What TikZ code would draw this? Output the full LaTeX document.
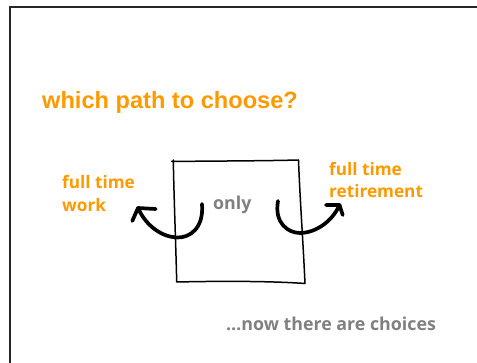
\documentclass[tikz,border=0pt]{standalone}
\usepackage{fontspec}
\setmainfont{Open Sans}
\newfontfamily\headfont{Liberation Sans}
\definecolor{pathorange}{HTML}{FF9900}
\definecolor{notegray}{HTML}{808080}
\begin{document}
\begin{tikzpicture}[x=1pt,y=-1pt,
  frame/.style={line width=2pt, draw=black!85},
  sketch/.style={line width=1.5pt, line cap=round, line join=round},
  swoop/.style={line width=3.7pt, line cap=round, line join=round},
  txt/.style={inner sep=0pt, anchor=base west},
  headline/.style={txt, text=pathorange, font=\headfont\bfseries\fontsize{23.6}{28}\selectfont},
  choice/.style={txt, text=pathorange, font=\bfseries\fontsize{17.2}{20}\selectfont},
  remark/.style={txt, text=notegray, font=\bfseries\fontsize{17.8}{21}\selectfont}
]
\useasboundingbox (0,0) rectangle (477,363);

% page frame, open to the right and bottom
\draw[frame] (10,363) -- (10,7) -- (477,7);

% heading
\node[headline] (head) at (42,109) {which path to choose?};

% the hand-drawn box
\coordinate (tl) at (173.3,160);
\coordinate (bl) at (176.7,282);
\coordinate (br) at (305,283.5);
\coordinate (tr) at (298.5,160);
\draw[sketch] (tl) .. controls (174,200) and (176,250) .. (bl)
  .. controls (220,281) and (270,281) .. (br)
  .. controls (303,240) and (300,200) .. (tr)
  .. controls (260,161) and (210,161) .. (171.5,161.5);

\node[remark] (only) at (213,210) {only};

% left choice
\node[choice] (work1) at (62,189) {full time};
\node[choice] (work2) at (62,212) {work};
% right choice
\node[choice] (ret1) at (329,176) {full time};
\node[choice] (ret2) at (329,197.7) {retirement};

% swooping arrows
\coordinate (lstart) at (202,204);
\coordinate (lend) at (138,208);
\draw[swoop] (lstart) .. controls (204,228) and (190,238) .. (177,237.5)
  .. controls (162,237) and (146,226) .. (lend);
\draw[swoop] (155.7,209) -- (lend) -- (132.3,221);

\coordinate (rstart) at (278,201);
\coordinate (rend) at (339.5,205);
\draw[swoop] (rstart) .. controls (274,223) and (288,233) .. (300,233)
  .. controls (315,233) and (332,222) .. (rend);
\draw[swoop] (326,205) -- (rend) -- (342.7,215);

\node[remark] (now) at (226,331) {…now there are choices};
\end{tikzpicture}
\end{document}
